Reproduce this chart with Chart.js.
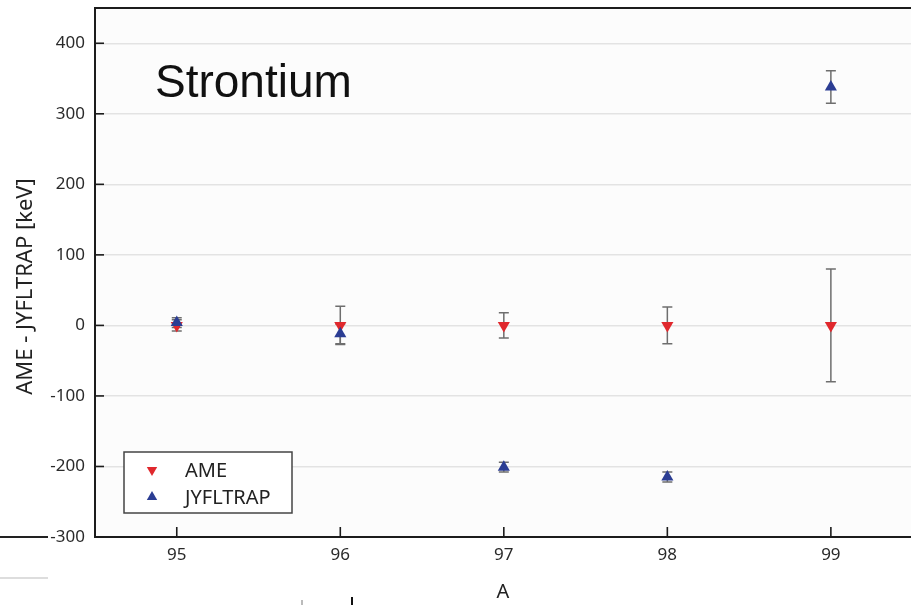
<!DOCTYPE html>
<html>
<head>
<meta charset="utf-8">
<script src="https://cdn.jsdelivr.net/npm/chart.js@4.4.1/dist/chart.umd.min.js"></script>
<style>
html,body{margin:0;padding:0;background:#fff;overflow:hidden;width:911px;height:605px;}
#wrap{width:911px;height:605px;position:relative;overflow:hidden;}
canvas{display:block;}
</style>
</head>
<body>
<div id="wrap"><canvas id="c"></canvas></div>
<script>
// ---- data ----
const massNumbers = [95, 96, 97, 98, 99];
const ameValues = [0, 0, 0, 0, 0];
const ameErrors = [8, 27, 18, 26, 80];
const jyflValues = [4, -12, -201, -215, 338];
const jyflErrors = [7, 14, 7, 7, 23];
const yTickValues = [-300, -200, -100, 0, 100, 200, 300, 400];
const xTickValues = [95, 96, 97, 98, 99];
const seriesNames = ['AME', 'JYFLTRAP'];
const panelLabel = 'Strontium';
const yTitle = 'AME - JYFLTRAP [keV]';
const xTitle = 'A';

const RED = '#e0282d';
const BLUE = '#2b3d93';
const FONT = '"Noto Sans", "Open Sans", "DejaVu Sans", sans-serif';

function toPoints(xs, ys) { return xs.map((x, i) => ({x: x, y: ys[i]})); }

function triangle(ctx, x, y, r, down) {
  const s = down ? -1 : 1;
  ctx.beginPath();
  for (let k = 0; k < 3; k++) {
    const a = k * 2 * Math.PI / 3;
    const px = x + Math.sin(a) * r;
    const py = y - s * Math.cos(a) * r;
    if (k === 0) ctx.moveTo(px, py); else ctx.lineTo(px, py);
  }
  ctx.closePath();
  ctx.fill();
}

const errorBarPlugin = {
  id: 'errorBars',
  beforeDatasetsDraw(chart) {
    const ctx = chart.ctx;
    const xs = chart.scales.x, ys = chart.scales.y;
    ctx.save();
    ctx.strokeStyle = '#6e6e6e';
    ctx.lineWidth = 1.5;
    chart.data.datasets.forEach(ds => {
      ds.data.forEach((p, i) => {
        const e = ds.errors[i];
        const px = xs.getPixelForValue(p.x);
        const y1 = ys.getPixelForValue(p.y + e);
        const y2 = ys.getPixelForValue(p.y - e);
        ctx.beginPath();
        ctx.moveTo(px, y1); ctx.lineTo(px, y2);
        ctx.moveTo(px - 5, y1); ctx.lineTo(px + 5, y1);
        ctx.moveTo(px - 5, y2); ctx.lineTo(px + 5, y2);
        ctx.stroke();
      });
    });
    ctx.restore();
  }
};

const framePlugin = {
  id: 'frame',
  beforeDraw(chart) {
    const ctx = chart.ctx;
    ctx.save();
    ctx.fillStyle = '#ffffff';
    ctx.fillRect(0, 0, chart.width, chart.height);
    const a = chart.chartArea;
    ctx.fillStyle = '#fcfcfc';
    ctx.fillRect(a.left, a.top, a.right - a.left, a.bottom - a.top);
    // scan artefacts at the left/bottom of the slide
    ctx.strokeStyle = '#222';
    ctx.lineWidth = 2;
    ctx.beginPath(); ctx.moveTo(0, a.bottom); ctx.lineTo(48, a.bottom); ctx.stroke();
    ctx.strokeStyle = '#dddddd';
    ctx.beginPath(); ctx.moveTo(0, 578); ctx.lineTo(48, 578); ctx.stroke();
    ctx.strokeStyle = '#bbbbbb';
    ctx.beginPath(); ctx.moveTo(302, 600); ctx.lineTo(302, 605); ctx.stroke();
    ctx.strokeStyle = '#111';
    ctx.beginPath(); ctx.moveTo(352, 597); ctx.lineTo(352, 605); ctx.stroke();
    ctx.restore();
  },
  afterDraw(chart) {
    const ctx = chart.ctx;
    const a = chart.chartArea;
    const xs = chart.scales.x, ys = chart.scales.y;
    ctx.save();
    ctx.strokeStyle = '#1c1c1c';
    ctx.lineWidth = 2;
    ctx.beginPath(); ctx.moveTo(a.left - 1, a.top); ctx.lineTo(a.right, a.top); ctx.stroke();
    ctx.lineWidth = 1.6;
    ys.ticks.forEach(t => {
      const py = ys.getPixelForValue(t.value);
      ctx.beginPath(); ctx.moveTo(a.left, py); ctx.lineTo(a.left + 9, py); ctx.stroke();
    });
    xs.ticks.forEach(t => {
      const px = xs.getPixelForValue(t.value);
      ctx.beginPath(); ctx.moveTo(px, a.bottom); ctx.lineTo(px, a.bottom - 10); ctx.stroke();
    });
    // y axis title
    ctx.fillStyle = '#222';
    ctx.font = '22px ' + FONT;
    ctx.textAlign = 'center';
    ctx.textBaseline = 'middle';
    ctx.translate(26, (a.top + a.bottom) / 2 + 14);
    ctx.rotate(-Math.PI / 2);
    ctx.fillText(yTitle, 0, 0);
    ctx.setTransform(1, 0, 0, 1, 0, 0);
    // panel label
    ctx.fillStyle = '#111';
    ctx.font = '46px "Liberation Sans", Arial, sans-serif';
    ctx.textBaseline = 'alphabetic';
    ctx.textAlign = 'left';
    ctx.fillText(panelLabel, a.left + 60, a.top + 89);
    // legend box
    const lx = a.left + 29, ly = a.bottom - 85, lw = 168, lh = 61;
    ctx.fillStyle = '#ffffff';
    ctx.fillRect(lx, ly, lw, lh);
    ctx.strokeStyle = '#444';
    ctx.lineWidth = 1.5;
    ctx.strokeRect(lx, ly, lw, lh);
    ctx.font = '20px ' + FONT;
    ctx.textBaseline = 'middle';
    chart.data.datasets.forEach((ds, i) => {
      const cy = ly + 18 + i * 27;
      ctx.fillStyle = ds.backgroundColor;
      triangle(ctx, lx + 28, cy, 6, ds.rotation === 180);
      ctx.fillStyle = '#222';
      ctx.fillText(ds.label, lx + 61, cy + 1);
    });
    ctx.restore();
  }
};

new Chart(document.getElementById('c'), {
  type: 'scatter',
  data: {
    datasets: [
      {
        label: seriesNames[0],
        data: toPoints(massNumbers, ameValues),
        errors: ameErrors,
        pointStyle: 'triangle',
        rotation: 180,
        pointRadius: 7,
        pointHoverRadius: 7,
        backgroundColor: RED,
        borderColor: RED,
        borderWidth: 0,
        order: 1
      },
      {
        label: seriesNames[1],
        data: toPoints(massNumbers, jyflValues),
        errors: jyflErrors,
        pointStyle: 'triangle',
        rotation: 0,
        pointRadius: 7,
        pointHoverRadius: 7,
        backgroundColor: BLUE,
        borderColor: BLUE,
        borderWidth: 0,
        order: 0
      }
    ]
  },
  options: {
    responsive: true,
    maintainAspectRatio: false,
    animation: false,
    events: [],
    layout: {autoPadding: false, padding: {top: 8, right: 0, left: 0, bottom: 0}},
    plugins: {legend: {display: false}, tooltip: {enabled: false}},
    scales: {
      x: {
        type: 'linear',
        min: 94.5,
        max: 99.49,
        afterBuildTicks: s => { s.ticks = xTickValues.map(v => ({value: v})); },
        afterFit: s => { s.height = 68; s.paddingLeft = 0; s.paddingRight = 0; },
        ticks: {
          padding: 8,
          color: '#2a2a2a',
          font: {family: FONT, size: 17},
          callback: v => String(v)
        },
        grid: {color: 'rgba(0,0,0,0)', drawTicks: false},
        border: {display: true, color: '#1c1c1c', width: 2},
        title: {display: true, text: xTitle, color: '#222', font: {family: FONT, size: 20}, padding: {top: 0, bottom: 1}}
      },
      y: {
        type: 'linear',
        min: -300,
        max: 450,
        afterBuildTicks: s => { s.ticks = yTickValues.map(v => ({value: v})); },
        afterFit: s => { s.width = 95; s.paddingTop = 0; s.paddingBottom = 0; },
        ticks: {
          padding: 10,
          color: '#2a2a2a',
          font: {family: FONT, size: 17},
          callback: v => String(v)
        },
        grid: {color: '#e3e3e3', lineWidth: 1.5, drawTicks: false},
        border: {display: true, color: '#1c1c1c', width: 2},
        title: {display: false}
      }
    }
  },
  plugins: [framePlugin, errorBarPlugin]
});
</script>
</body>
</html>
